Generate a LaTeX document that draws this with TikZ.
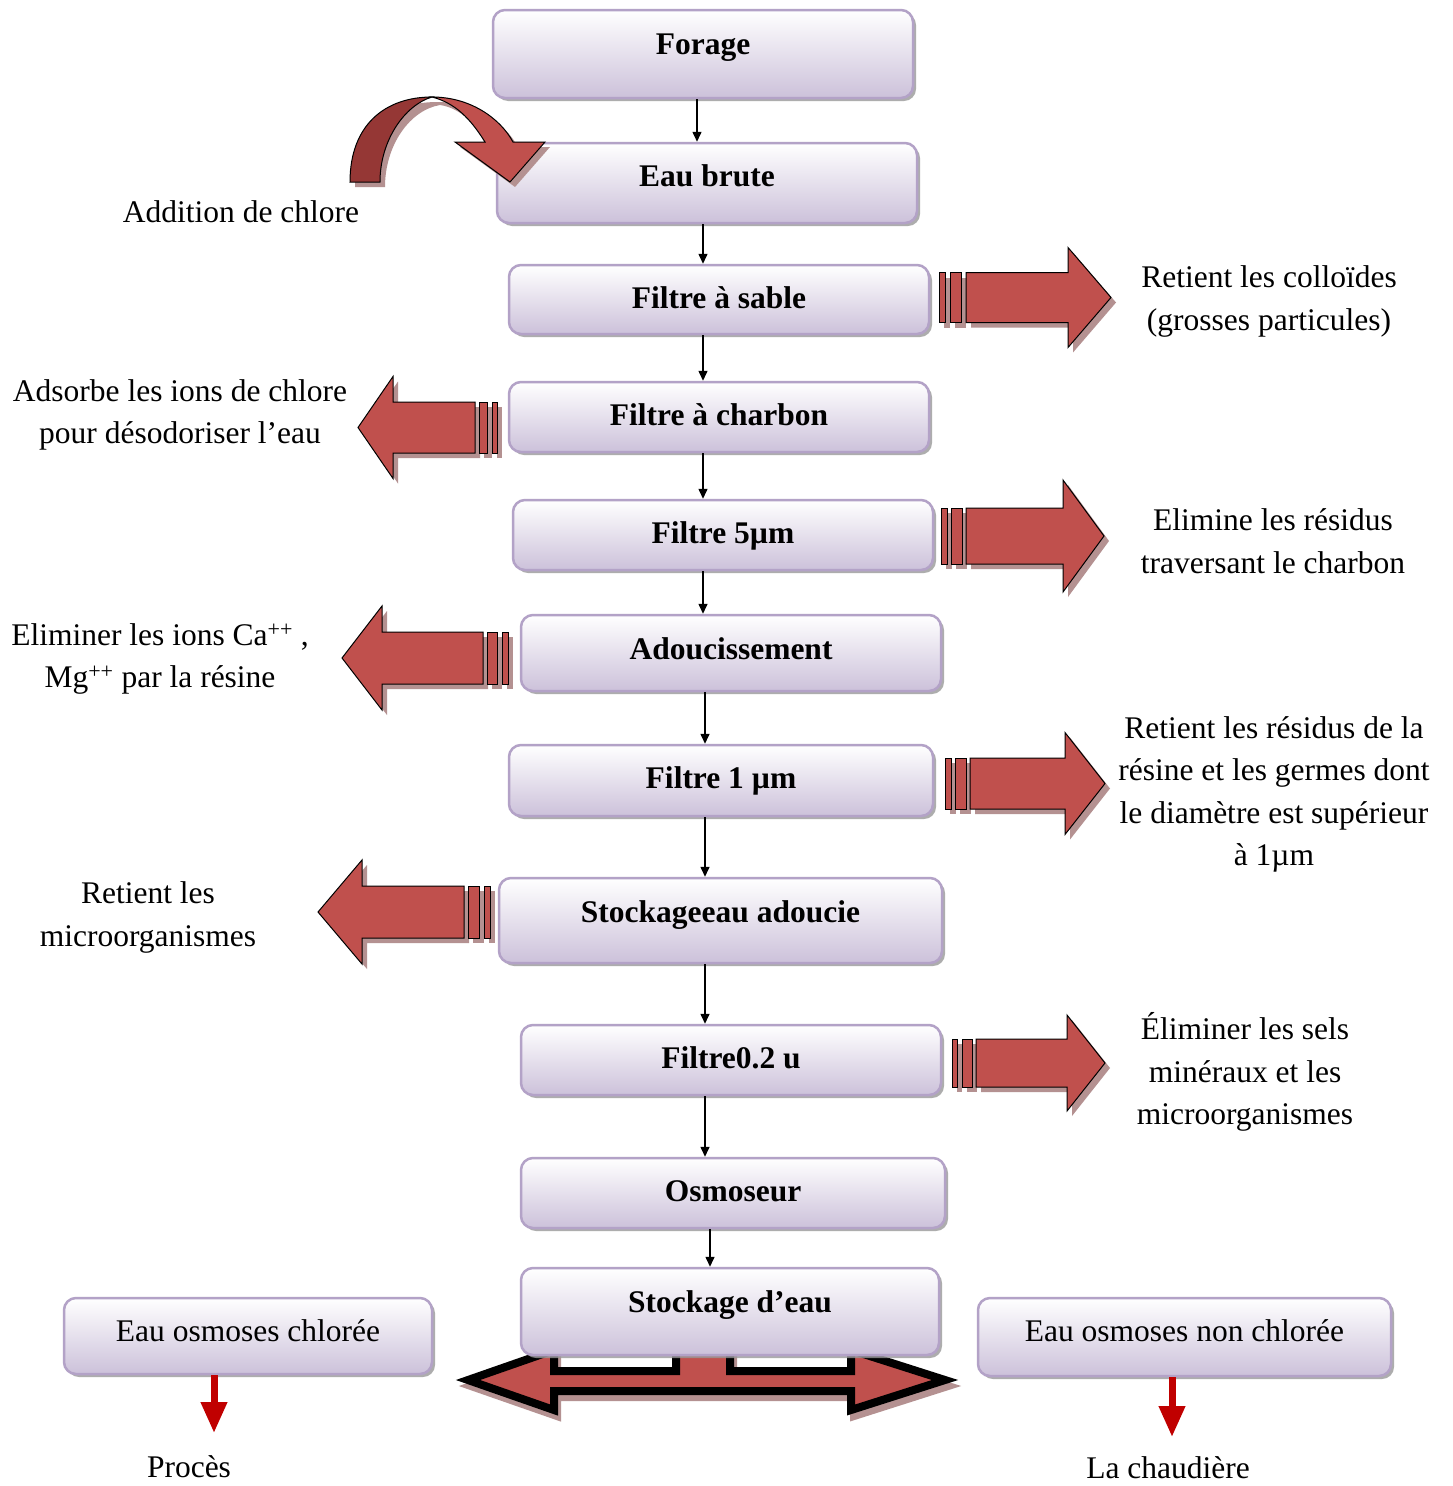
\documentclass[tikz,border=0pt]{standalone}
\usepackage{fontspec}
\setmainfont{Liberation Serif}
\usetikzlibrary{arrows.meta,shadows}
\definecolor{arrred}{HTML}{C0504D}
\definecolor{arrdark}{HTML}{953735}
\definecolor{arrshadow}{RGB}{180,145,145}
\definecolor{boxbot}{HTML}{CCC1DA}
\definecolor{boxline}{HTML}{B3A2C7}
\definecolor{smallred}{HTML}{C00000}
\newcommand\myblockarrow[9]{%
  \begin{scope}[shift={(5,5)}]
    \fill[blockshadow] (#1,#8) -- (#2,#8-2*#9) -- (#2,#8-#9) -- (#3,#8-#9) -- (#3,#8+#9) -- (#2,#8+#9) -- (#2,#8+2*#9) -- cycle;
    \fill[blockshadow] (#4,#8-#9) rectangle (#5,#8+#9);
    \fill[blockshadow] (#6,#8-#9) rectangle (#7,#8+#9);
  \end{scope}
  \filldraw[block] (#1,#8) -- (#2,#8-2*#9) -- (#2,#8-#9) -- (#3,#8-#9) -- (#3,#8+#9) -- (#2,#8+#9) -- (#2,#8+2*#9) -- cycle;
  \filldraw[block] (#4,#8-#9) rectangle (#5,#8+#9);
  \filldraw[block] (#6,#8-#9) rectangle (#7,#8+#9);
}
\newcommand\mydblpath{(468,1380) -- (554,1350) -- (554,1371) -- (676,1371) -- (676,1330) -- (730,1330) -- (730,1371) -- (851,1371) -- (851,1350) -- (945,1380) -- (851,1410) -- (851,1391) -- (554,1391) -- (554,1410) -- cycle}
\begin{document}
\begin{tikzpicture}[x=1pt,y=-1pt,
  procbox/.style={rectangle, rounded corners=12pt, draw=boxline, line width=2.5pt,
    top color=white, bottom color=boxbot,
    drop shadow={shadow xshift=3pt, shadow yshift=-3pt, fill=black!40, opacity=0.8},
    font=\fontsize{31.5}{38}\selectfont\bfseries, text height=23pt, inner sep=0pt},
  plainbox/.style={procbox, font=\fontsize{31.5}{38}\selectfont},
  conn/.style={line width=1.5pt, -{Triangle[length=10pt,width=9pt]}},
  redarr/.style={line width=7pt, draw=smallred, -{Triangle[length=31pt,width=25pt]}},
  note/.style={font=\fontsize{31.5}{42.5}\selectfont, align=center, inner sep=0pt},
  block/.style={fill=arrred, draw=black, line width=1pt},
  blockshadow/.style={fill=arrshadow}
]
\useasboundingbox[fill=white] (0,0) rectangle (1452,1486);

% bottom double arrow (behind the storage box)
\begin{scope}[shift={(3,6)}]
  \filldraw[arrshadow, line width=8pt, line join=miter] \mydblpath;
\end{scope}
\filldraw[fill=arrred, draw=black, line width=8pt, line join=miter] \mydblpath;

% process boxes
\node[procbox, minimum width=420pt, minimum height=88pt, text depth=22pt] (forage) at (703,54) {Forage};
\node[procbox, minimum width=420pt, minimum height=80pt, text depth=16pt] (eau) at (707,183) {Eau brute};
\node[procbox, minimum width=420pt, minimum height=69pt, text depth=5pt] (sable) at (719,299.5) {Filtre à sable};
\node[procbox, minimum width=420pt, minimum height=70pt, text depth=6pt] (charbon) at (719,417) {Filtre à charbon};
\node[procbox, minimum width=420pt, minimum height=70pt, text depth=6pt] (f5) at (723,535) {Filtre 5µm};
\node[procbox, minimum width=420pt, minimum height=76pt, text depth=10pt] (adouc) at (731,653) {Adoucissement};
\node[procbox, minimum width=424pt, minimum height=71pt, text depth=7pt] (f1) at (721,780.5) {Filtre 1 µm};
\node[procbox, minimum width=443pt, minimum height=85pt, text depth=19pt] (stock) at (720.5,920.5) {Stockageeau adoucie};
\node[procbox, minimum width=420pt, minimum height=70pt, text depth=6pt] (f02) at (731,1060) {Filtre0.2 u};
\node[procbox, minimum width=424pt, minimum height=70pt, text depth=6pt] (osmo) at (733,1193) {Osmoseur};
\node[procbox, minimum width=418pt, minimum height=87pt, text depth=21pt] (stockage) at (730,1311.5) {Stockage d’eau};
\node[plainbox, minimum width=368pt, minimum height=76pt, text depth=12pt] (chl) at (248,1336) {Eau osmoses chlorée};
\node[plainbox, minimum width=413pt, minimum height=78pt, text depth=14pt] (nonchl) at (1184.5,1337) {Eau osmoses non chlorée};

% vertical connectors
\coordinate (x1) at (697,0);
\coordinate (x2) at (703,0);
\coordinate (x3) at (705,0);
\coordinate (x4) at (710,0);
\draw[conn] (forage.south -| x1) -- (eau.north -| x1);
\draw[conn] (eau.south -| x2) -- (sable.north -| x2);
\draw[conn] (sable.south -| x2) -- (charbon.north -| x2);
\draw[conn] (charbon.south -| x2) -- (f5.north -| x2);
\draw[conn] (f5.south -| x2) -- (adouc.north -| x2);
\draw[conn] (adouc.south -| x3) -- (f1.north -| x3);
\draw[conn] (f1.south -| x3) -- (stock.north -| x3);
\draw[conn] (stock.south -| x3) -- (f02.north -| x3);
\draw[conn] (f02.south -| x3) -- (osmo.north -| x3);
\draw[conn] (osmo.south -| x4) -- (stockage.north -| x4);

% block arrows
\myblockarrow{1111}{1068}{966}{950}{961}{939}{945}{297.5}{25}
\myblockarrow{1104}{1063}{966}{951}{962}{941}{947}{536}{28}
\myblockarrow{1105}{1065}{970}{955}{966}{945}{951}{783.5}{25.5}
\myblockarrow{1105}{1067}{976}{962}{972}{952}{957}{1063}{24}
\myblockarrow{358}{393}{475}{479}{487}{492}{497}{427.5}{25.5}
\myblockarrow{342}{382}{483}{487}{497}{502}{508}{658}{26}
\myblockarrow{318}{362}{464}{468}{479}{484}{490}{912}{26}

% curved arrow (addition de chlore)
\begin{scope}[shift={(5,5)}]
  \fill[arrshadow] (350,182) .. controls (350,125) and (385,97) .. (432,97)
    .. controls (470,97) and (500,118) .. (513,142) -- (545,142) -- (510,182) -- (455,142) -- (485,142)
    .. controls (470,118) and (455,103) .. (435,100)
    .. controls (405,105) and (380,140) .. (380,182) -- cycle;
\end{scope}
\filldraw[fill=arrred, draw=black, line width=1pt] (432,97)
  .. controls (470,97) and (500,118) .. (513,142) -- (545,142) -- (510,182) -- (455,142) -- (485,142)
  .. controls (470,118) and (455,103) .. (432,97) -- cycle;
\filldraw[fill=arrdark, draw=black, line width=1pt] (350,182) .. controls (350,125) and (385,97) .. (432,97)
  .. controls (405,105) and (380,140) .. (380,182) -- cycle;

% small red arrows
\coordinate (proc) at (214,1433);
\coordinate (chaud) at (1172,1437);
\draw[redarr] (chl.south -| proc) -- (proc);
\draw[redarr] (nonchl.south -| chaud) -- (chaud);

% notes
\node[note] (n0) at (241,212) {Addition de chlore};
\node[note] (n1) at (1269,301.5) {Retient les colloïdes\\(grosses particules)};
\node[note] (n2) at (180,415) {Adsorbe les ions de chlore\\pour désodoriser l’eau};
\node[note] (n3) at (1273,541) {Elimine les résidus\\traversant le charbon};
\node[note] (n4) at (160,659) {Eliminer les ions Ca\textsuperscript{++} ,\\Mg\textsuperscript{++} par la résine};
\node[note] (n5) at (1274,794.5) {Retient les résidus de la\\résine et les germes dont\\le diamètre est supérieur\\à 1µm};
\node[note] (n6) at (148,917.5) {Retient les\\microorganismes};
\node[note] (n7) at (1245,1072) {Éliminer les sels\\minéraux et les\\microorganismes};
\node[note] (n8) at (189,1467) {Procès};
\node[note] (n9) at (1168,1468) {La chaudière};
\end{tikzpicture}
\end{document}
